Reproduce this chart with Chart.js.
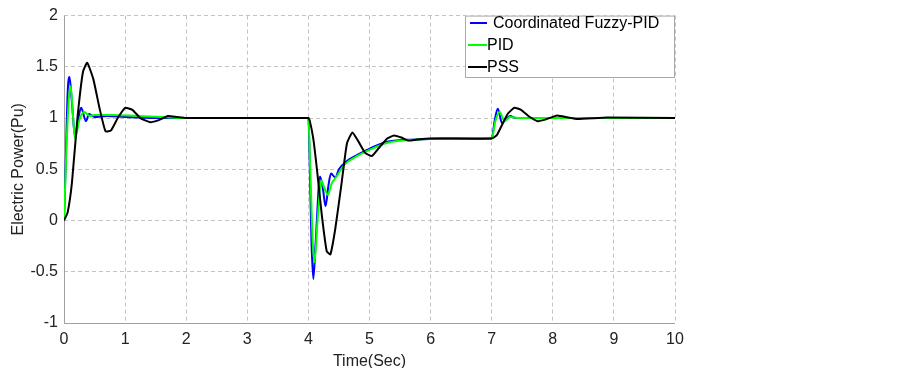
<!DOCTYPE html>
<html>
<head>
<meta charset="utf-8">
<script src="https://cdn.jsdelivr.net/npm/chart.js@4/dist/chart.umd.min.js"></script>
<style>
  html, body { margin: 0; padding: 0; background: #fff; }
  #wrap { width: 903px; height: 368px; position: relative; }
</style>
</head>
<body>
<div id="wrap"><canvas id="chart"></canvas></div>
<script>
// --- Data ---
const xTicks = [0, 1, 2, 3, 4, 5, 6, 7, 8, 9, 10];
const yTicks = [-1, -0.5, 0, 0.5, 1, 1.5, 2];

const fuzzyT = [0, 0.03, 0.06, 0.09, 0.13, 0.18, 0.23, 0.28, 0.36, 0.41, 0.5, 0.7, 1.0, 1.5, 2.0, 3.0,
  4.0, 4.02, 4.05, 4.08, 4.12, 4.19, 4.24, 4.28, 4.33, 4.37, 4.44, 4.5, 4.63, 4.8, 4.96, 5.29, 5.78, 6.2,
  7.0, 7.05, 7.1, 7.17, 7.23, 7.3, 7.4, 7.6, 8, 9, 10];
const fuzzyV = [0, 0.6, 1.25, 1.4, 1.15, 0.82, 0.98, 1.1, 0.97, 1.04, 1.01, 1.02, 1.01, 1.0, 1.0, 1.0,
  1.0, 0.6, -0.2, -0.57, -0.2, 0.43, 0.3, 0.14, 0.35, 0.46, 0.42, 0.5, 0.58, 0.64, 0.69, 0.77, 0.79, 0.8,
  0.8, 0.98, 1.09, 0.95, 0.99, 1.02, 1.0, 1.0, 1.0, 1.0, 1.0];

const pidT = [0, 0.04, 0.08, 0.11, 0.15, 0.18, 0.25, 0.33, 0.42, 0.5, 0.8, 1.2, 1.6, 2.0,
  4.0, 4.03, 4.07, 4.1, 4.15, 4.21, 4.26, 4.32, 4.38, 4.45, 4.6, 4.8, 5.0, 5.3, 5.8, 6.2,
  7.0, 7.06, 7.13, 7.21, 7.3, 7.45, 8, 10];
const pidV = [0, 0.7, 1.2, 1.31, 1.0, 0.8, 0.98, 1.06, 1.02, 1.03, 1.03, 1.02, 1.01, 1.0,
  1.0, 0.5, -0.2, -0.41, 0.0, 0.39, 0.32, 0.25, 0.36, 0.42, 0.55, 0.63, 0.69, 0.76, 0.79, 0.8,
  0.8, 0.97, 1.06, 0.97, 1.01, 1.0, 1.0, 1.0];

const pssT = [0, 0.06, 0.13, 0.22, 0.31, 0.38, 0.48, 0.58, 0.68, 0.77, 0.88, 1.0, 1.12, 1.25, 1.41, 1.55, 1.7, 1.85, 2.0,
  4.0, 4.02, 4.08, 4.14, 4.22, 4.3, 4.36, 4.44, 4.54, 4.63, 4.72, 4.82, 4.93, 5.04, 5.17, 5.29, 5.4, 5.52, 5.64, 5.78, 6.0,
  7.0, 7.08, 7.15, 7.26, 7.37, 7.48, 7.6, 7.75, 7.9, 8.07, 8.25, 8.4, 8.9, 10];
const pssV = [0, 0.08, 0.37, 1.0, 1.45, 1.54, 1.38, 1.1, 0.87, 0.88, 1.0, 1.1, 1.08, 1.0, 0.96, 0.98, 1.02, 1.01, 1.0,
  1.0, 0.98, 0.8, 0.5, 0.05, -0.3, -0.33, -0.08, 0.35, 0.75, 0.86, 0.77, 0.66, 0.63, 0.72, 0.8, 0.83, 0.81, 0.78, 0.79, 0.8,
  0.8, 0.83, 0.91, 1.04, 1.1, 1.08, 1.02, 0.97, 0.99, 1.025, 1.005, 0.99, 1.005, 1.0];

const seriesNames = ['Coordinated Fuzzy-PID', 'PID', 'PSS'];

function pts(ts, vs) {
  return ts.map((t, i) => ({ x: t, y: vs[i] }));
}

const FONT = 'Arial, "Liberation Sans", sans-serif';

// --- Solid left/bottom axis lines (grid itself is dashed) ---
const solidAxes = {
  id: 'solidAxes',
  beforeDatasetsDraw(chart) {
    const { ctx, chartArea: a } = chart;
    ctx.save();
    ctx.strokeStyle = '#a0a0a0';
    ctx.lineWidth = 1;
    ctx.beginPath();
    ctx.moveTo(a.left + 0.5, a.top);
    ctx.lineTo(a.left + 0.5, a.bottom + 0.5);
    ctx.lineTo(a.right, a.bottom + 0.5);
    ctx.stroke();
    ctx.restore();
  }
};

// --- Legend box drawn inside the plot, top right ---
const boxLegend = {
  id: 'boxLegend',
  afterDatasetsDraw(chart) {
    const { ctx, chartArea } = chart;
    const right = chartArea.right, top = chartArea.top;
    const left = 465, bottom = 78;
    ctx.save();
    ctx.fillStyle = '#fff';
    ctx.fillRect(left, top, right - left, bottom - top);
    ctx.strokeStyle = '#a8a8a8';
    ctx.lineWidth = 1;
    ctx.strokeRect(left + 0.5, top + 0.5, right - left - 1, bottom - top - 1);
    ctx.font = '16px ' + FONT;
    ctx.textBaseline = 'middle';
    ctx.fillStyle = '#000';
    const rows = [
      { y: 23, x0: 470, x1: 487, tx: 493 },
      { y: 45, x0: 468, x1: 487, tx: 487 },
      { y: 67, x0: 468, x1: 487, tx: 487 },
    ];
    chart.data.datasets.forEach((ds, i) => {
      const r = rows[i];
      ctx.strokeStyle = ds.borderColor;
      ctx.lineWidth = 2;
      ctx.beginPath();
      ctx.moveTo(r.x0, r.y);
      ctx.lineTo(r.x1, r.y);
      ctx.stroke();
      ctx.fillText(ds.label, r.tx, r.y + 1);
    });
    ctx.restore();
  }
};

const tickFont = { size: 16, family: FONT };

new Chart(document.getElementById('chart'), {
  type: 'line',
  data: {
    datasets: [
      {
        label: seriesNames[0],
        data: pts(fuzzyT, fuzzyV),
        borderColor: '#0000ff',
        borderWidth: 2,
        pointRadius: 0,
        cubicInterpolationMode: 'monotone',
        fill: false,
        order: 3,
      },
      {
        label: seriesNames[1],
        data: pts(pidT, pidV),
        borderColor: '#00ff00',
        borderWidth: 2,
        pointRadius: 0,
        cubicInterpolationMode: 'monotone',
        fill: false,
        order: 2,
      },
      {
        label: seriesNames[2],
        data: pts(pssT, pssV),
        borderColor: '#000000',
        borderWidth: 2,
        pointRadius: 0,
        tension: 0.15,
        fill: false,
        order: 1,
      },
    ]
  },
  options: {
    animation: false,
    responsive: true,
    maintainAspectRatio: false,
    layout: { padding: { left: 0, top: 10, right: 228, bottom: 0 } },
    plugins: { legend: { display: false }, tooltip: { enabled: false } },
    scales: {
      x: {
        type: 'linear',
        min: 0,
        max: 10,
        afterBuildTicks: s => { s.ticks = xTicks.map(v => ({ value: v })); },
        afterFit: s => { s.height = 45; },
        grid: { color: '#c4c4c4', drawTicks: false },
        border: { display: false, dash: [4, 3] },
        ticks: { color: '#222', font: tickFont, padding: 7, maxRotation: 0, callback: v => String(v) },
        title: { display: true, text: 'Time(Sec)', color: '#222', font: tickFont, padding: { top: 0, bottom: -3 } },
      },
      y: {
        min: -1,
        max: 2,
        afterBuildTicks: s => { s.ticks = yTicks.map(v => ({ value: v })); },
        afterFit: s => { s.width = 64; },
        grid: { color: '#c4c4c4', drawTicks: false },
        border: { display: false, dash: [4, 3] },
        ticks: { color: '#222', font: tickFont, padding: 6, callback: v => String(v) },
        title: { display: true, text: 'Electric Power(Pu)', color: '#222', font: tickFont, padding: { top: 9, bottom: 0 } },
      }
    }
  },
  plugins: [solidAxes, boxLegend]
});
</script>
</body>
</html>
